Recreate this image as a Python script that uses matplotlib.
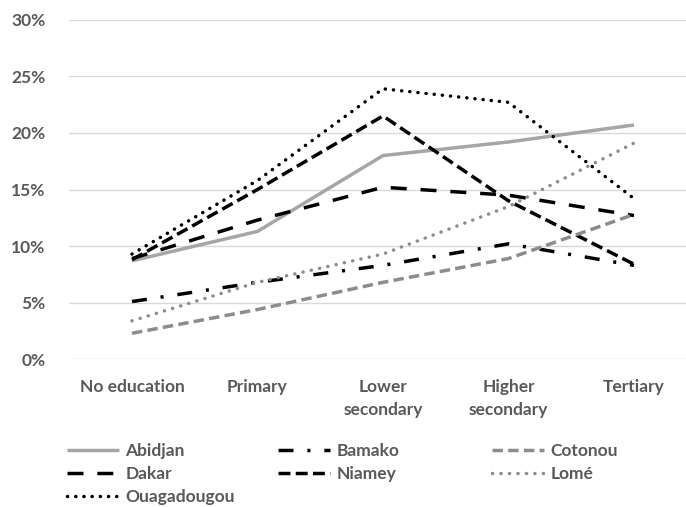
import matplotlib
matplotlib.use("Agg")
import matplotlib.pyplot as plt

plt.rcParams['font.family'] = ['Lato', 'DejaVu Sans']
plt.rcParams['lines.scale_dashes'] = False

categories = ["No education", "Primary", "Lower\nsecondary", "Higher\nsecondary", "Tertiary"]
yticks = [0, 0.05, 0.10, 0.15, 0.20, 0.25, 0.30]
ytick_labels = ["0%", "5%", "10%", "15%", "20%", "25%", "30%"]

abidjan = [0.087, 0.113, 0.180, 0.192, 0.207]
bamako = [0.051, 0.068, 0.083, 0.102, 0.083]
cotonou = [0.023, 0.044, 0.068, 0.089, 0.128]
dakar = [0.089, 0.123, 0.152, 0.145, 0.127]
niamey = [0.088, 0.150, 0.215, 0.140, 0.084]
lome = [0.034, 0.068, 0.093, 0.135, 0.191]
ouaga = [0.093, 0.158, 0.239, 0.227, 0.142]

text_col = '#595959'
lw = 2.5
fs = 12.5

# name, values, color, dash pattern (points, None = solid), capstyle
series = [
    ("Abidjan", abidjan, '#a6a6a6', None, 'butt'),
    ("Dakar", dakar, 'black', (11.5, 10), 'butt'),
    ("Ouagadougou", ouaga, 'black', (0.1, 5.8), 'round'),
    ("Bamako", bamako, 'black', (10.8, 10, 2.2, 10), 'butt'),
    ("Niamey", niamey, 'black', (8.6, 3.8), 'butt'),
    ("Cotonou", cotonou, '#8c8c8c', (7.5, 3.8), 'butt'),
    ("Lomé", lome, '#8c8c8c', (0.1, 6.0), 'round'),
]

fig = plt.figure(figsize=(6.86, 5.07), dpi=100)
ax = fig.add_axes([69.25 / 686, 0.2913, 627.5 / 686, 0.6698])

x = list(range(len(categories)))
handles = {}
for name, vals, col, dash, cap in series:
    if dash is None:
        ln, = ax.plot(x, vals, color=col, lw=lw, solid_capstyle='butt')
    else:
        ln, = ax.plot(x, vals, color=col, lw=lw, dashes=dash, dash_capstyle=cap)
    handles[name] = ln

ax.set_xlim(-0.5, 4.5)
ax.set_ylim(0, 0.30)
ax.set_yticks(yticks)
ax.set_yticklabels(ytick_labels)
ax.set_xticks(x)
ax.set_xticklabels(categories, linespacing=1.55)
ax.grid(axis='y', color='#d9d9d9', lw=1)
ax.set_axisbelow(True)
for s in ax.spines.values():
    s.set_visible(False)
ax.tick_params(axis='both', length=0, colors=text_col, labelsize=fs)
ax.tick_params(axis='x', pad=14)
ax.tick_params(axis='y', pad=17)
for lab in ax.get_xticklabels() + ax.get_yticklabels():
    lab.set_fontweight('bold')

# legend in three columns laid out like the original
cols = [["Abidjan", "Dakar", "Ouagadougou"], ["Bamako", "Niamey"], ["Cotonou", "Lomé"]]
col_x = [67, 278, 492]
for names, cx in zip(cols, col_x):
    leg = fig.legend([handles[n] for n in names], names, loc='upper left',
                     bbox_to_anchor=(cx / 686, 1 - 443 / 507), frameon=False,
                     borderpad=0, borderaxespad=0, handlelength=3.0,
                     handletextpad=0.35, labelspacing=0.4,
                     prop={'size': fs, 'weight': 'bold'})
    for t in leg.get_texts():
        t.set_color(text_col)

fig.savefig("out.png", dpi=100)
